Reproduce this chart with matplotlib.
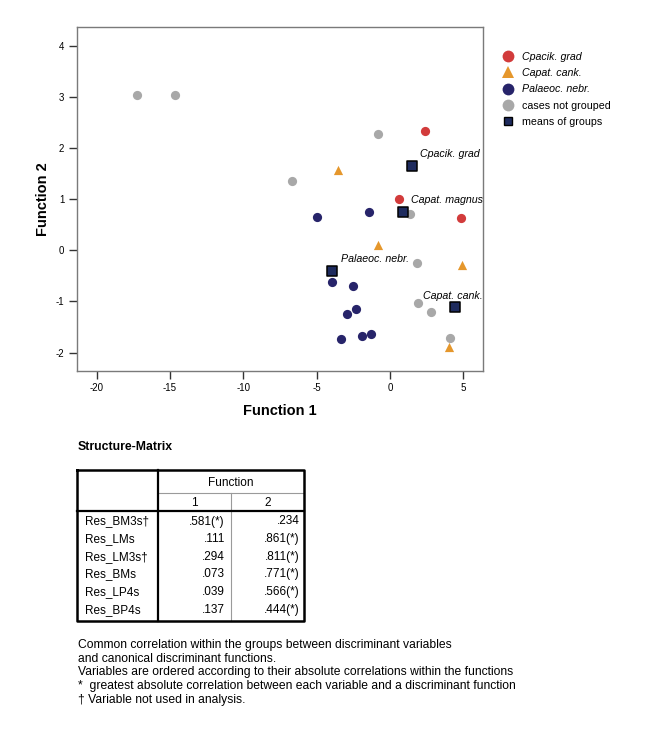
import matplotlib
matplotlib.use("Agg")
import matplotlib.pyplot as plt
from matplotlib.lines import Line2D

plt.rcParams['font.family'] = ['Liberation Sans', 'DejaVu Sans']
plt.rcParams['axes.unicode_minus'] = False

# group members (Function 1, Function 2)
cpacik_x = [2.39, 0.61, 4.84]
cpacik_y = [2.33, 1.00, 0.63]
cank_x = [-3.55, -0.82, 4.91, 4.02]
cank_y = [1.57, 0.10, -0.29, -1.89]
palaeoc_x = [-4.98, -1.43, -3.96, -2.52, -2.32, -2.93, -3.34, -1.91, -1.30]
palaeoc_y = [0.65, 0.75, -0.62, -0.70, -1.15, -1.24, -1.73, -1.67, -1.63]
ungrouped_x = [-17.26, -14.69, -6.66, -0.82, 1.36, 1.84, 1.90, 2.82, 4.10]
ungrouped_y = [3.04, 3.04, 1.35, 2.27, 0.71, -0.25, -1.03, -1.21, -1.71]

# group centroids
means_x = [1.50, 0.89, -3.96, 4.43]
means_y = [1.65, 0.75, -0.40, -1.11]
means_names = ["Cpacik. grad", "Capat. magnus", "Palaeoc. nebr.", "Capat. cank."]
label_offsets = [(8, 12), (8, 12), (9, 12), (-32, 11)]

xticks = [-20, -15, -10, -5, 0, 5]
yticks = [-2, -1, 0, 1, 2, 3, 4]

# structure matrix
row_names = ["Res_BM3s\u2020", "Res_LMs", "Res_LM3s\u2020", "Res_BMs", "Res_LP4s", "Res_BP4s"]
func1 = [".581(*)", ".111", ".294", ".073", ".039", ".137"]
func2 = [".234", ".861(*)", ".811(*)", ".771(*)", ".566(*)", ".444(*)"]
notes = [
    "Common correlation within the groups between discriminant variables",
    "and canonical discriminant functions.",
    "Variables are ordered according to their absolute correlations within the functions",
    "*  greatest absolute correlation between each variable and a discriminant function",
    "\u2020 Variable not used in analysis.",
]

red = '#d23b3b'
orange = '#e5972c'
navy = '#27246a'
gray = '#a8a8a8'
sq_fill = '#1e2b5e'

W, H = 646, 732
fig = plt.figure(figsize=(W / 100, H / 100), dpi=100)

# overlay in pixel coordinates for the table and notes
ov = fig.add_axes([0, 0, 1, 1])
ov.set_xlim(0, W)
ov.set_ylim(H, 0)
ov.axis('off')

ax = fig.add_axes([76.7 / W, 1 - 371 / H, (483.3 - 76.7) / W, (371 - 27.3) / H])
ax.scatter(ungrouped_x, ungrouped_y, s=44, color=gray, linewidths=0, zorder=3)
ax.scatter(cpacik_x, cpacik_y, s=44, color=red, linewidths=0, zorder=3)
ax.scatter(cank_x, cank_y, s=44, marker='^', color=orange, linewidths=0, zorder=3)
ax.scatter(palaeoc_x, palaeoc_y, s=44, color=navy, linewidths=0, zorder=3)
ax.scatter(means_x, means_y, s=50, marker='s', color=sq_fill, edgecolors='black',
           linewidths=1.1, zorder=4)
for mx, my, name, off in zip(means_x, means_y, means_names, label_offsets):
    ax.annotate(name, (mx, my), xytext=off, textcoords='offset pixels',
                fontsize=7.7, style='italic', ha='left', va='center', zorder=5)

ax.set_xlim(-21.36, 6.36)
ax.set_ylim(-2.36, 4.36)
ax.set_xticks(xticks)
ax.set_yticks(yticks)
for s in ax.spines.values():
    s.set_color('#7a7a7a')
    s.set_linewidth(1)
ax.tick_params(direction='out', length=6, width=1, color='#333333', labelsize=7, pad=3)
ax.set_xlabel("Function 1", fontsize=10.5, fontweight='bold', labelpad=7.5)
ax.set_ylabel("Function 2", fontsize=10.5, fontweight='bold', labelpad=4)

handles = [
    Line2D([], [], marker='o', ls='', color=red, markersize=8.5, markeredgewidth=0),
    Line2D([], [], marker='^', ls='', color=orange, markersize=8, markeredgewidth=0),
    Line2D([], [], marker='o', ls='', color=navy, markersize=8.5, markeredgewidth=0),
    Line2D([], [], marker='o', ls='', color=gray, markersize=8.5, markeredgewidth=0),
    Line2D([], [], marker='s', ls='', color=sq_fill, markeredgecolor='black',
           markersize=6, markeredgewidth=1),
]
labels = ["Cpacik. grad", "Capat. cank.", "Palaeoc. nebr.", "cases not grouped", "means of groups"]
leg = fig.legend(handles, labels, loc='upper left', bbox_to_anchor=(502.6 / W, 1 - 51.5 / H),
                 frameon=False, fontsize=7.7, borderpad=0, borderaxespad=0,
                 handlelength=1.0, handletextpad=0.8, labelspacing=0.6)
for t in leg.get_texts()[:3]:
    t.set_style('italic')

# table
fs = 8.5
ov.text(77.5, 447.5, "Structure-Matrix", fontsize=8.8, fontweight='bold', va='center')
tl, tr, c1, c2 = 77, 303.5, 158, 231
top, hline, thick, bottom = 470, 492.5, 510.5, 621
rh = 17.66
ov.plot([c1, tr], [hline, hline], color='#9a9a9a', lw=0.8)
ov.plot([c2, c2], [hline, bottom], color='#9a9a9a', lw=0.8)
ov.plot([tl, tr], [thick, thick], color='black', lw=1.6)
ov.plot([c1, c1], [top, bottom], color='black', lw=1.6)
ov.plot([tl, tr, tr, tl, tl], [top, top, bottom, bottom, top], color='black', lw=1.8)
ov.text((c1 + tr) / 2, 482.7, "Function", fontsize=fs, ha='center', va='center')
ov.text((c1 + c2) / 2, 502.7, "1", fontsize=fs, ha='center', va='center')
ov.text((c2 + tr) / 2, 502.7, "2", fontsize=fs, ha='center', va='center')
for i, (rn, v1, v2) in enumerate(zip(row_names, func1, func2)):
    yy = thick + 11 + rh * i
    ov.text(85, yy, rn, fontsize=fs, va='center')
    ov.text(225, yy, v1, fontsize=fs, va='center', ha='right')
    ov.text(299.5, yy, v2, fontsize=fs, va='center', ha='right')

for i, line in enumerate(notes):
    ov.text(78, 645 + 13.7 * i, line, fontsize=8.75, va='center')

fig.savefig("out.png", dpi=100)
